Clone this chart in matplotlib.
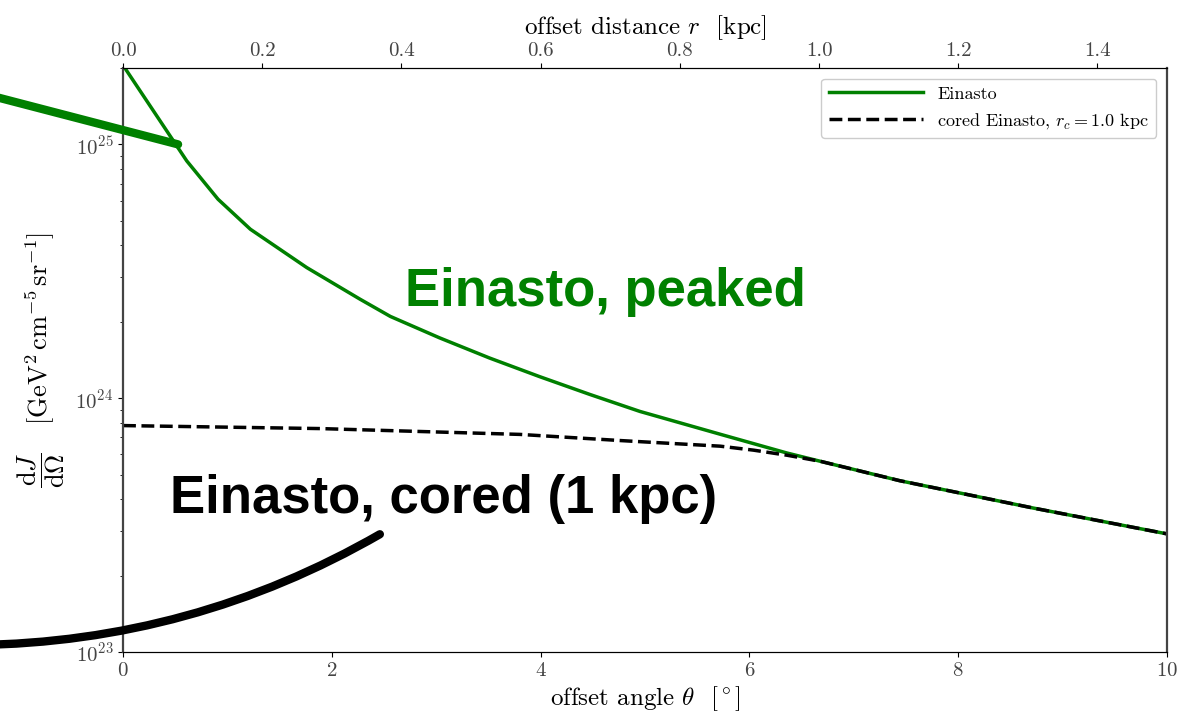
import numpy as np
import matplotlib
matplotlib.use("Agg")
import matplotlib.pyplot as plt

plt.rcParams['font.family'] = 'serif'
plt.rcParams['font.serif'] = ['cmr10']
plt.rcParams['mathtext.fontset'] = 'cm'
plt.rcParams['axes.formatter.use_mathtext'] = True
plt.rcParams['axes.unicode_minus'] = False

# values
theta_ein = [0.0, 0.61, 0.91, 1.22, 1.76, 2.27, 2.56, 3.03, 3.51, 3.99,
             4.47, 4.95, 5.72, 6.36, 6.68, 7.44, 8.72, 10.0]
dJ_ein = [2.05e25, 8.61e24, 6.08e24, 4.63e24, 3.27e24, 2.455e24, 2.10e24,
          1.73e24, 1.44e24, 1.216e24, 1.035e24, 8.87e23, 7.21e23, 6.08e23, 5.64e23,
          4.73e23, 3.69e23, 2.92e23]

theta_cored = [0.0, 1.89, 3.80, 4.76, 5.72, 6.04, 6.36, 6.68, 7.44, 8.72, 10.0]
dJ_cored = [7.80e23, 7.59e23, 7.20e23, 6.81e23, 6.47e23, 6.24e23, 5.96e23, 5.64e23,
            4.73e23, 3.69e23, 2.92e23]

gray = '#444444'

fig = plt.figure(figsize=(11.9, 7.12), dpi=100)
ax = fig.add_axes([0.1034, 0.0843, 0.8773, 0.8202])

ax.plot(theta_ein, dJ_ein, color='green', lw=2.5, label='Einasto')
ax.plot(theta_cored, dJ_cored, color='black', lw=2.5, ls='--',
        label=r'cored Einasto, $r_c = 1.0$ kpc')

ax.set_yscale('log')
ax.set_xlim(0, 10)
ax.set_ylim(1e23, 2e25)
ax.set_xticks([0, 2, 4, 6, 8, 10])
ax.set_xlabel(r'offset angle $\theta$  $[^\circ]$', fontsize=18, labelpad=3)
ax.set_ylabel(r'$\dfrac{\mathrm{d}J}{\mathrm{d}\Omega}$   $[\mathrm{GeV}^2\,\mathrm{cm}^{-5}\,\mathrm{sr}^{-1}]$',
              fontsize=19, labelpad=6)
ax.tick_params(axis='both', which='both', labelsize=15, labelcolor=gray,
               direction='out', right=False)
ax.spines['left'].set_color(gray)
ax.spines['right'].set_color(gray)
ax.spines['left'].set_linewidth(1.6)
ax.spines['right'].set_linewidth(1.6)

ax2 = ax.twiny()
ax2.set_xlim(0, 1.5)
ax2.set_xticks([0.0, 0.2, 0.4, 0.6, 0.8, 1.0, 1.2, 1.4])
ax2.set_xticklabels(['0.0', '0.2', '0.4', '0.6', '0.8', '1.0', '1.2', '1.4'])
ax2.set_xlabel(r'offset distance $r$  [kpc]', fontsize=18, labelpad=6)
ax2.tick_params(axis='x', labelsize=15, labelcolor=gray, direction='out', pad=2)
ax2.spines['left'].set_visible(False)
ax2.spines['right'].set_visible(False)

leg = ax.legend(loc='upper right', fontsize=13, handlelength=5.2,
                framealpha=1, edgecolor='#cccccc', borderaxespad=0.6)

# labels with their connectors
ax.text(2.70, 2.31e24, 'Einasto, peaked', family='Liberation Sans',
        fontweight='bold', fontsize=38, color='green', va='baseline')
ax.text(0.45, 3.52e23, 'Einasto, cored (1 kpc)', family='Liberation Sans',
        fontweight='bold', fontsize=38, color='black', va='baseline')

ax.annotate('', xy=(0.527, 1e25), xycoords='data',
            xytext=(-0.02, 0.871), textcoords='figure fraction',
            arrowprops=dict(arrowstyle='-', color='green', lw=6,
                            shrinkA=0, shrinkB=0,
                            connectionstyle='arc3,rad=0.0'),
            annotation_clip=False, zorder=10)
ax.annotate('', xy=(2.46, 2.91e23), xycoords='data',
            xytext=(-0.02, 0.094), textcoords='figure fraction',
            arrowprops=dict(arrowstyle='-', color='black', lw=6,
                            shrinkA=0, shrinkB=0,
                            connectionstyle='arc3,rad=0.13'),
            annotation_clip=False, zorder=10)

fig.savefig('out.png', dpi=100)
